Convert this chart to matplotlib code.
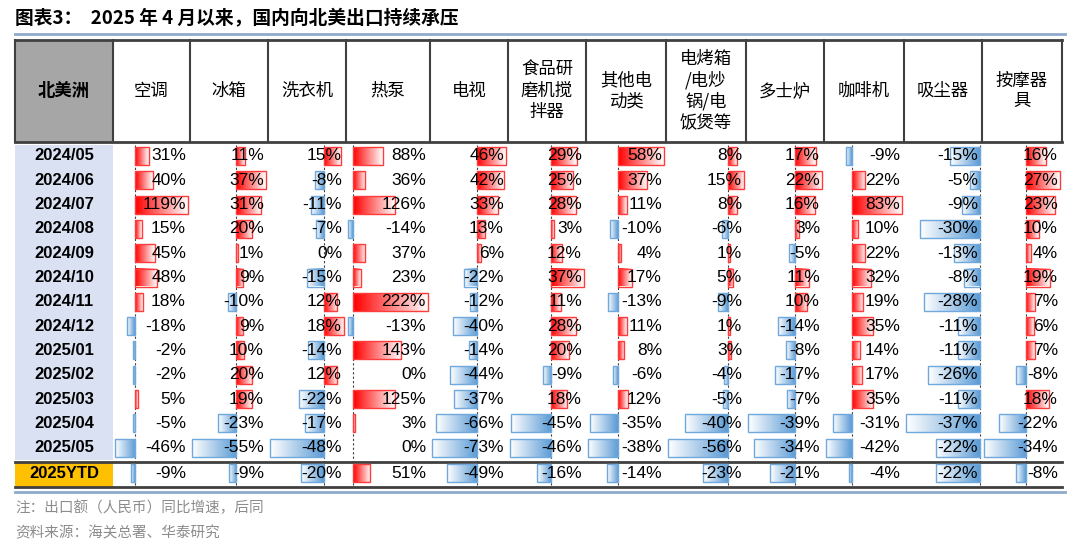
import matplotlib
matplotlib.use("Agg")
import matplotlib.pyplot as plt
import numpy as np
from matplotlib.colors import LinearSegmentedColormap

plt.rcParams['font.family'] = ['Noto Sans CJK SC', 'DejaVu Sans']

rows = ["2024/05","2024/06","2024/07","2024/08","2024/09","2024/10","2024/11","2024/12",
        "2025/01","2025/02","2025/03","2025/04","2025/05","2025YTD"]
headers = ["空调","冰箱","洗衣机","热泵","电视","食品研\n磨机搅\n拌器","其他电\n动类","电烤箱\n/电炒\n锅/电\n饭煲等","多士炉","咖啡机","吸尘器","按摩器\n具"]
kongtiao = [31,40,119,15,45,48,18,-18,-2,-2,5,-5,-46,-9]
bingxiang = [11,37,31,20,1,9,-10,9,10,20,19,-23,-55,-9]
xiyiji = [15,-8,-11,-7,0,-15,12,18,-14,12,-22,-17,-48,-20]
rebeng = [88,36,126,-14,37,23,222,-13,143,0,125,3,0,51]
dianshi = [46,42,33,13,6,-22,-12,-40,-14,-44,-37,-66,-73,-49]
shipin = [29,25,28,3,12,37,11,28,20,-9,18,-45,-46,-16]
qita = [58,37,11,-10,4,17,-13,11,8,-6,12,-35,-38,-14]
diankaoxiang = [8,15,8,-6,1,5,-9,1,3,-4,-5,-40,-56,-23]
duoshilu = [17,22,16,3,-5,11,10,-14,-8,-17,-7,-39,-34,-21]
kafeiji = [-9,22,83,10,22,32,19,35,14,17,35,-31,-42,-4]
xichenqi = [-15,-5,-9,-30,-13,-8,-28,-11,-11,-26,-11,-37,-22,-22]
anmo = [16,27,23,10,4,19,7,6,7,-8,18,-22,-34,-8]
cols = [kongtiao,bingxiang,xiyiji,rebeng,dianshi,shipin,qita,diankaoxiang,duoshilu,kafeiji,xichenqi,anmo]

edges = [15,113,190,268,346,430,508,586,666,746,824,904,982,1062]

fig = plt.figure(figsize=(10.8,5.51), dpi=100)
ax = fig.add_axes([0,0,1,1])
ax.set_xlim(0,1080); ax.set_ylim(551,0); ax.axis('off')

ax.text(15,19,"图表3：  2025 年 4 月以来，国内向北美出口持续承压",fontsize=13.5,fontweight='bold',va='center',ha='left')
ax.plot([15,1065],[34,34],color='#8eaacc',lw=2)

htop, hbot = 40, 142
ax.add_patch(plt.Rectangle((15,htop),98,hbot-htop,fc='#a6a6a6',ec='none'))
ax.text(64,91,"北美洲",fontsize=12.5,fontweight='bold',ha='center',va='center')
for i,h in enumerate(headers):
    ax.text((edges[i+1]+edges[i+2])/2,91,h,fontsize=12.5,ha='center',va='center',linespacing=1.2)
for x in edges:
    ax.plot([x,x],[htop,hbot],color='#404040',lw=1.5)
ax.plot([15,1062],[htop,htop],color='#404040',lw=2)
ax.plot([15,1062],[hbot,hbot],color='#404040',lw=2)

y0 = 156; dy = 24.3
ycs = [y0+i*dy for i in range(13)] + [473]
ax.add_patch(plt.Rectangle((15,145),98,460-145,fc='#d9e1f2',ec='none'))
ax.add_patch(plt.Rectangle((15,463),98,24,fc='#ffc000',ec='none'))
for r,yc in zip(rows,ycs):
    ax.text(64,yc,r,fontsize=12,fontweight='bold',family='Liberation Sans',ha='center',va='center')
ax.plot([15,1062],[462,462],color='#404040',lw=2)
ax.plot([15,1062],[487,487],color='#404040',lw=2)
ax.plot([15,1065],[492,492],color='#8eaacc',lw=2)

red = LinearSegmentedColormap.from_list('r',['#ff0000','#ffffff'])
blue = LinearSegmentedColormap.from_list('b',['#ffffff','#5b9bd5'])
grad = np.linspace(0,1,64).reshape(1,-1)
bh = 18
for j,vals in enumerate(cols):
    x0 = edges[j+1]+2; x1 = edges[j+2]-2
    vmin = min(0,min(vals)); vmax = max(0,max(vals))
    w = x1-x0
    scale = w/(vmax-vmin)
    axis = x0 + (-vmin)*scale
    ax.plot([axis,axis],[145,487],color='#404040',lw=0.8,ls=(0,(2,2)))
    for v,yc in zip(vals,ycs):
        if v>0:
            L = max(v*scale,2)
            ax.imshow(grad,cmap=red,extent=(axis,axis+L,yc+bh/2,yc-bh/2),aspect='auto',zorder=2)
            ax.add_patch(plt.Rectangle((axis,yc-bh/2),L,bh,fc='none',ec='#ff3b3b',lw=1,zorder=3))
        elif v<0:
            L = max(-v*scale,2)
            ax.imshow(grad,cmap=blue,extent=(axis-L,axis,yc+bh/2,yc-bh/2),aspect='auto',zorder=2)
            ax.add_patch(plt.Rectangle((axis-L,yc-bh/2),L,bh,fc='none',ec='#6fa8dc',lw=1,zorder=3))
        ax.text(edges[j+2]-4,yc,f"{v}%",fontsize=12.5,family='Liberation Sans',ha='right',va='center',zorder=4)

ax.text(15,508,"注：出口额（人民币）同比增速，后同",fontsize=10.5,color='#8c8c8c',va='center')
ax.text(15,533,"资料来源：海关总署、华泰研究",fontsize=10.5,color='#8c8c8c',va='center')
fig.savefig("out.png",dpi=100)
